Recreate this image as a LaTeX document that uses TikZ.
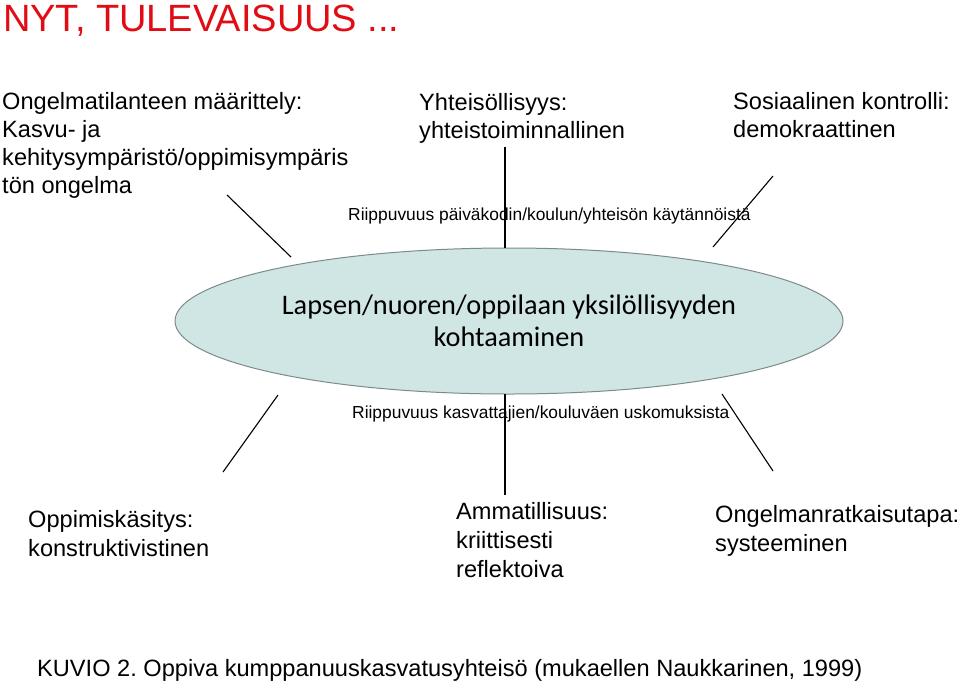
\documentclass[tikz,border=0pt]{standalone}
\usepackage{fontspec}
\setmainfont{Liberation Sans}
\newfontfamily\calfont{Carlito}
\usepackage{xcolor}
\usetikzlibrary{shapes.geometric}
\definecolor{titlered}{RGB}{226,12,20}
\definecolor{ellfill}{RGB}{207,230,228}
\definecolor{elldraw}{RGB}{125,138,138}

\begin{document}
\begin{tikzpicture}[x=1pt,y=-1pt,
  txt/.style={anchor=base west,inner sep=0pt,align=left,font=\fontsize{23.6}{28}\selectfont},
  lowtxt/.style={anchor=base west,inner sep=0pt,align=left,font=\fontsize{23.6}{29}\selectfont},
  small/.style={anchor=base west,inner sep=0pt,font=\fontsize{17.4}{20}\selectfont},
  spoke/.style={line width=1.1pt}]
\useasboundingbox[fill=white](0,0)rectangle(960,683);
% title
\node[anchor=base west,inner sep=0pt,text=titlered,font=\fontsize{38}{42}\selectfont](title) at (3,31) {NYT, TULEVAISUUS ...};
% upper labels (placed at baseline of last line)
\node[txt](ongel) at (2,193) {Ongelmatilanteen määrittely:\\Kasvu- ja\\kehitysympäristö/oppimisympäris\\tön ongelma};
\node[txt](yhteis) at (419,138) {Yhteisöllisyys:\\yhteistoiminnallinen};
\node[txt](sosiaal) at (733,137) {Sosiaalinen kontrolli:\\demokraattinen};
\node[small](riip1) at (348,220) {Riippuvuus päiväkodin/koulun/yhteisön käytännöistä};
% centre
\node[ellipse,draw=elldraw,fill=ellfill,line width=1pt,minimum width=668pt,minimum height=146pt,
  align=center,font=\calfont\fontsize{28.3}{32.5}\selectfont](ell) at (509,321)
  {Lapsen/nuoren/oppilaan yksilöllisyyden\\kohtaaminen};
\node[small](riip2) at (352,418) {Riippuvuus kasvattajien/kouluväen uskomuksista};
% lower labels
\node[lowtxt](oppim) at (28,556) {Oppimiskäsitys:\\konstruktivistinen};
\node[lowtxt](ammat) at (456,577) {Ammatillisuus:\\kriittisesti\\reflektoiva};
\node[lowtxt](ongrat) at (715,551) {Ongelmanratkaisutapa:\\systeeminen};
\node[lowtxt](kuvio) at (37,676) {KUVIO 2.\ Oppiva kumppanuuskasvatusyhteisö (mukaellen Naukkarinen, 1999)};
% spokes
\coordinate (a1) at (227,195); \coordinate (a2) at (291,257);
\coordinate (b1) at (505,147); \coordinate (b2) at (505,248);
\coordinate (c1) at (773,176); \coordinate (c2) at (713,247);
\coordinate (d1) at (278,395); \coordinate (d2) at (223,472);
\coordinate (e1) at (505,394); \coordinate (e2) at (505,495);
\coordinate (f1) at (722,394); \coordinate (f2) at (773,471);
\draw[spoke](a1)--(a2);
\draw[spoke](b1)--(b2);
\draw[spoke](c1)--(c2);
\draw[spoke](d1)--(d2);
\draw[spoke](e1)--(e2);
\draw[spoke](f1)--(f2);
\end{tikzpicture}
\end{document}
